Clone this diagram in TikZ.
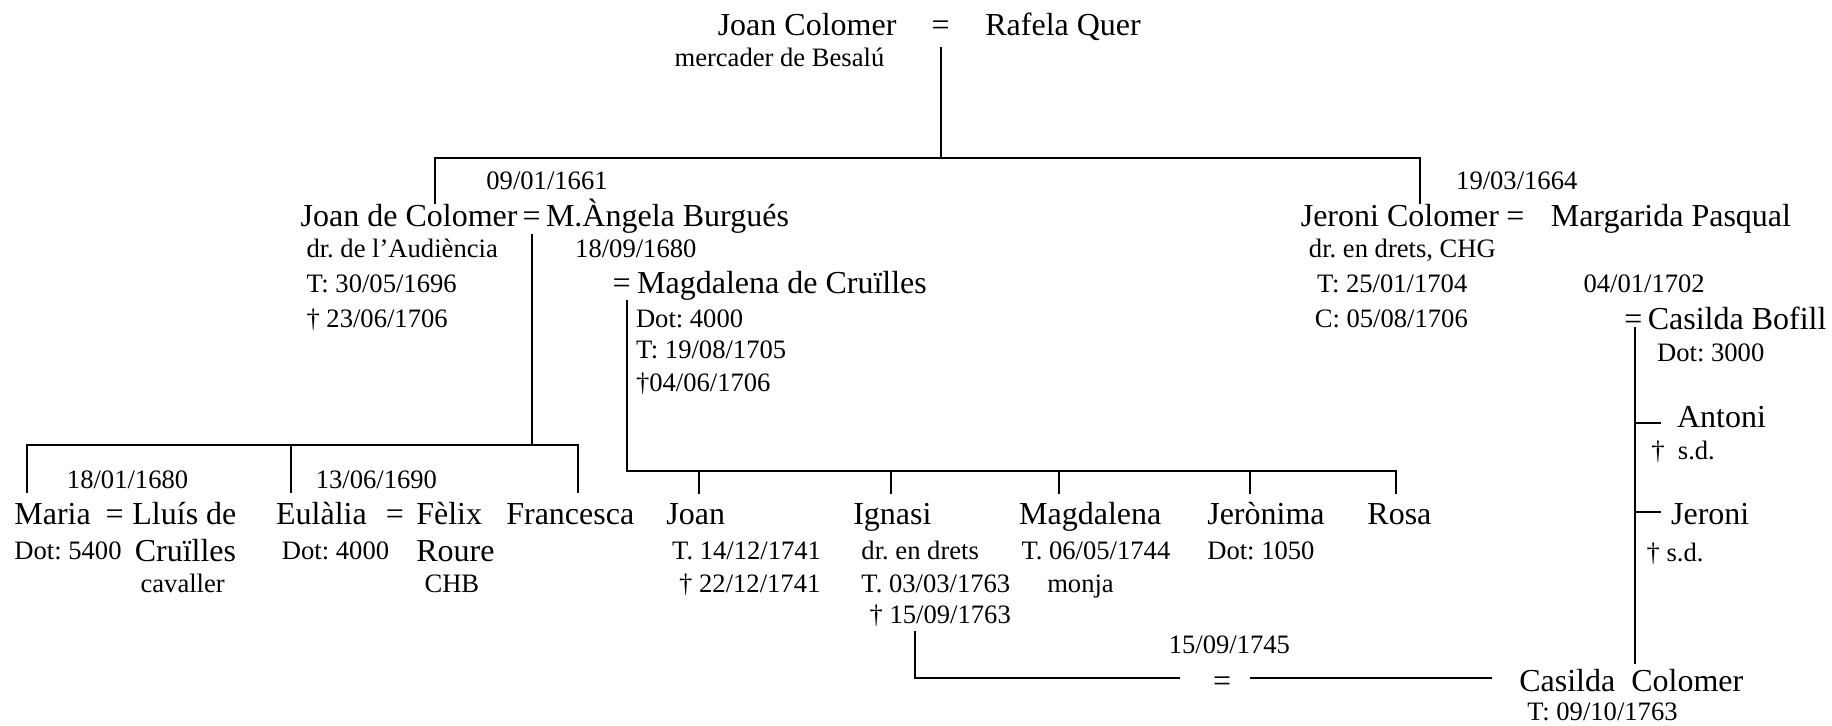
\documentclass[tikz,border=0pt]{standalone}
\usepackage{fontspec}
\setmainfont{Liberation Serif}
\frenchspacing
\begin{document}
\begin{tikzpicture}[x=0.5842pt,y=-0.5842pt,
  big/.style={font=\fontsize{16}{18}\selectfont, anchor=base west, inner sep=0pt},
  sm/.style={font=\fontsize{13.3}{15}\selectfont, anchor=base west, inner sep=0pt},
  ln/.style={line width=1pt}]
\useasboundingbox (0,0) rectangle (1568,621);
% generation 1
\node[big] (jc) at (614,30) {Joan Colomer};
\node[big] (eq0) at (797,30) {=};
\node[big] (rq) at (843,30) {Rafela Quer};
\node[sm] (jcm) at (577,57) {mercader de Besalú};
% generation 2 left
\node[sm] (d1661) at (416,162) {09/01/1661};
\node[big] (jdc) at (257,194) {Joan de Colomer};
\node[big] (eq1) at (447,194) {=};
\node[big] (mab) at (467,194) {M.Àngela Burgués};
\node[sm] (jdc1) at (262,220) {dr. de l’Audiència};
\node[sm] (jdc2) at (262,250) {T: 30/05/1696};
\node[sm] (jdc3) at (262,280) {† 23/06/1706};
\node[sm] (d1680) at (492,220) {18/09/1680};
\node[big] (eq2) at (524,251) {=};
\node[big] (mdc) at (545,251) {Magdalena de Cruïlles};
\node[sm] (mdc1) at (544,280) {Dot: 4000};
\node[sm] (mdc2) at (544,307) {T: 19/08/1705};
\node[sm] (mdc3) at (544,335) {†04/06/1706};
% generation 2 right
\node[sm] (d1664) at (1246,162) {19/03/1664};
\node[big] (jer) at (1113,194) {Jeroni Colomer};
\node[big] (eq3) at (1289,194) {=};
\node[big] (mp) at (1327,194) {Margarida Pasqual};
\node[sm] (jer1) at (1120,220) {dr. en drets, CHG};
\node[sm] (jer2) at (1127,250) {T: 25/01/1704};
\node[sm] (jer3) at (1125,280) {C: 05/08/1706};
\node[sm] (d1702) at (1355,250) {04/01/1702};
\node[big] (eq4) at (1390,282) {=};
\node[big] (cb) at (1410,282) {Casilda Bofill};
\node[sm] (cb1) at (1418,309) {Dot: 3000};
\node[big] (ant) at (1435,366) {Antoni};
\node[sm] (ant1) at (1413,393) {†\ \ s.d.};
\node[big] (jer4) at (1430,449) {Jeroni};
\node[sm] (jer5) at (1409,481) {† s.d.};
\node[big] (cc) at (1300,592) {Casilda\ \ Colomer};
\node[sm] (cc1) at (1307,617) {T: 09/10/1763};
% generation 3 left
\node[sm] (d1680b) at (57,418) {18/01/1680};
\node[big] (maria) at (12,449) {Maria};
\node[big] (eq6) at (90,449) {=};
\node[big] (llu) at (113,449) {Lluís de};
\node[sm] (maria1) at (12,479) {Dot: 5400};
\node[big] (llu2) at (115,481) {Cruïlles};
\node[sm] (llu3) at (120,507) {cavaller};
\node[sm] (d1690) at (270,418) {13/06/1690};
\node[big] (eul) at (236,449) {Eulàlia};
\node[big] (eq7) at (330,449) {=};
\node[big] (fel) at (356,449) {Fèlix};
\node[sm] (eul1) at (241,479) {Dot: 4000};
\node[big] (fel2) at (356,481) {Roure};
\node[sm] (fel3) at (363,507) {CHB};
\node[big] (fra) at (433,449) {Francesca};
% generation 3 right
\node[big] (joan) at (570,449) {Joan};
\node[sm] (joan1) at (575,479) {T. 14/12/1741};
\node[sm] (joan2) at (581,507) {† 22/12/1741};
\node[big] (ign) at (730,449) {Ignasi};
\node[sm] (ign1) at (737,479) {dr. en drets};
\node[sm] (ign2) at (737,507) {T. 03/03/1763};
\node[sm] (ign3) at (744,534) {† 15/09/1763};
\node[big] (mag) at (872,449) {Magdalena};
\node[sm] (mag1) at (874,479) {T. 06/05/1744};
\node[sm] (mag2) at (896,507) {monja};
\node[big] (jrn) at (1033,449) {Jerònima};
\node[sm] (jrn1) at (1033,479) {Dot: 1050};
\node[big] (rosa) at (1170,449) {Rosa};
\node[sm] (d1745) at (1000,559) {15/09/1745};
\node[big] (eq5) at (1038,592) {=};
% connector coordinates
\coordinate (a0) at (805,40);
\coordinate (a1) at (805,135);
\coordinate (b1) at (372,135);
\coordinate (b0) at (372,175);
\coordinate (c1) at (1215,135);
\coordinate (c0) at (1215,175);
\coordinate (m1t) at (455,200);
\coordinate (m1b) at (455,381);
\coordinate (k1) at (23,381);
\coordinate (k1b) at (23,422);
\coordinate (k2) at (249,381);
\coordinate (k2b) at (249,422);
\coordinate (k3) at (495,381);
\coordinate (k3b) at (495,422);
\coordinate (m2t) at (537,257);
\coordinate (m2b) at (537,403);
\coordinate (r5) at (1195,403);
\coordinate (r5b) at (1195,423);
\coordinate (r1) at (598,403);
\coordinate (r1b) at (598,423);
\coordinate (r2) at (763,403);
\coordinate (r2b) at (763,423);
\coordinate (r3) at (906,403);
\coordinate (r3b) at (906,423);
\coordinate (r4) at (1070,403);
\coordinate (r4b) at (1070,423);
\coordinate (i0) at (783,540);
\coordinate (i1) at (783,580);
\coordinate (i2) at (1010,580);
\coordinate (i3) at (1070,580);
\coordinate (i4) at (1277,580);
\coordinate (m3t) at (1399,280);
\coordinate (m3b) at (1399,568);
\coordinate (t1a) at (1399,362);
\coordinate (t1b) at (1422,362);
\coordinate (t2a) at (1399,438);
\coordinate (t2b) at (1422,438);
% connectors
\draw[ln] (a0) -- (a1);
\draw[ln] (b0) -- (b1) -- (c1) -- (c0);
\draw[ln] (m1t) -- (m1b);
\draw[ln] (k1b) -- (k1) -- (k3) -- (k3b);
\draw[ln] (k2) -- (k2b);
\draw[ln] (m2t) -- (m2b) -- (r5) -- (r5b);
\draw[ln] (r1) -- (r1b);
\draw[ln] (r2) -- (r2b);
\draw[ln] (r3) -- (r3b);
\draw[ln] (r4) -- (r4b);
\draw[ln] (i0) -- (i1) -- (i2);
\draw[ln] (i3) -- (i4);
\draw[ln] (m3t) -- (m3b);
\draw[ln] (t1a) -- (t1b);
\draw[ln] (t2a) -- (t2b);
\end{tikzpicture}
\end{document}
